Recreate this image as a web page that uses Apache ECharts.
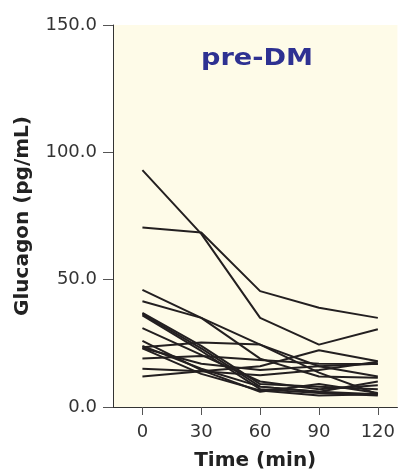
<!DOCTYPE html>
<html>
<head>
<meta charset="utf-8">
<script src="https://cdn.jsdelivr.net/npm/echarts@6/dist/echarts.min.js"></script>
<style>html,body{margin:0;padding:0;background:#fff}#c{width:398px;height:476px}</style>
</head>
<body>
<div id="c"></div>
<script>
const times = [0, 30, 60, 90, 120];
const timeTicks = [0, 30, 60, 90, 120];
const yTicks = [0, 50, 100, 150];
const s1 = [93, 68, 35, 24.5, 30.5];
const s2 = [70.5, 68.5, 45.5, 39, 35];
const s3 = [46, 35, 24.5, 13.5, 5];
const s4 = [41.5, 35, 19, 12, 11.5];
const s5 = [37, 24, 9, 8, 7];
const s6 = [36.5, 23, 8, 6, 5];
const s7 = [36, 22, 7, 5.5, 4.5];
const s8 = [31, 20.5, 10, 7, 8.5];
const s9 = [26, 14.5, 6, 9, 5.5];
const s10 = [23.5, 25.3, 24.5, 16, 12];
const s11 = [23.2, 17, 14.5, 16, 17];
const s12 = [19, 20, 18.5, 17, 16.9];
const s13 = [15, 14, 12.5, 14.5, 17.8];
const s14 = [12, 14, 16, 22.3, 18];
const s15 = [23, 13, 6.5, 4.5, 5];
const s16 = [24, 15, 8, 6, 10];
const allSeries = [s1,s2,s3,s4,s5,s6,s7,s8,s9,s10,s11,s12,s13,s14,s15,s16];

const chart = echarts.init(document.getElementById('c'), null, {renderer: 'canvas'});
const font = 'DejaVu Sans';
chart.setOption({
  animation: false,
  grid: {left: 113, top: 25, right: 0, bottom: 64, show: true, backgroundColor: '#fefbe8', borderWidth: 0},
  xAxis: {
    type: 'value', min: -15, max: 130,
    name: 'Time (min)', nameLocation: 'middle', nameGap: 44,
    nameTextStyle: {fontFamily: font, fontWeight: 'bold', fontSize: 20, color: '#222'},
    axisLine: {onZero: false, lineStyle: {color: '#333', width: 1}},
    axisTick: {show: true, length: 8, lineStyle: {color: '#555'}, customValues: timeTicks},
    axisLabel: {fontFamily: font, fontSize: 18, color: '#333', margin: 16, customValues: timeTicks},
    splitLine: {show: false}
  },
  yAxis: {
    type: 'value', min: 0, max: 150, interval: 50,
    name: 'Glucagon (pg/mL)', nameLocation: 'middle', nameGap: 80,
    nameTextStyle: {fontFamily: font, fontWeight: 'bold', fontSize: 20, color: '#222'},
    axisLine: {show: true, onZero: false, lineStyle: {color: '#333', width: 1}},
    axisTick: {show: true, length: 10, lineStyle: {color: '#555'}},
    axisLabel: {fontFamily: font, fontSize: 18, color: '#333', margin: 16, formatter: v => v.toFixed(1)},
    splitLine: {show: false}
  },
  graphic: [{
    type: 'text', x: 257, y: 59, scaleX: 1.18, originX: 0, originY: 0,
    style: {text: 'pre-DM', fontFamily: font, fontWeight: 'bold', fontSize: 23, fill: '#2e3192', textAlign: 'center', textVerticalAlign: 'middle'}
  }],
  series: allSeries.map(arr => ({
    type: 'line', symbol: 'none', silent: true,
    data: arr.map((v, i) => [times[i], v]),
    lineStyle: {color: '#231f20', width: 2}
  }))
});
</script>
</body>
</html>
